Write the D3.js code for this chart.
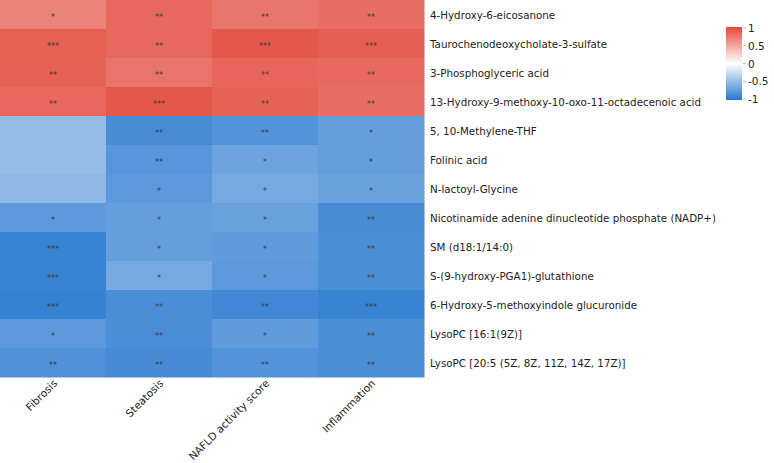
<!DOCTYPE html>
<html><head><meta charset="utf-8">
<script src="https://cdn.jsdelivr.net/npm/d3@7"></script>
<style>body{margin:0;background:#fff}svg{display:block}</style>
</head><body><svg id="c" width="774" height="463"></svg>
<script>
const rows = ["4-Hydroxy-6-eicosanone","Taurochenodeoxycholate-3-sulfate","3-Phosphoglyceric acid","13-Hydroxy-9-methoxy-10-oxo-11-octadecenoic acid","5, 10-Methylene-THF","Folinic acid","N-lactoyl-Glycine","Nicotinamide adenine dinucleotide phosphate (NADP+)","SM (d18:1/14:0)","S-(9-hydroxy-PGA1)-glutathione","6-Hydroxy-5-methoxyindole glucuronide","LysoPC [16:1(9Z)]","LysoPC [20:5 (5Z, 8Z, 11Z, 14Z, 17Z)]"];
const cols = ["Fibrosis","Steatosis","NAFLD activity score","Inflammation"];
const fibrosis = [0.68,0.87,0.86,0.82,-0.5,-0.5,-0.52,-0.75,-0.92,-0.92,-0.93,-0.76,-0.82];
const steatosis = [0.82,0.82,0.76,0.92,-0.85,-0.78,-0.76,-0.72,-0.72,-0.64,-0.84,-0.84,-0.86];
const nas = [0.75,0.92,0.84,0.86,-0.8,-0.68,-0.64,-0.7,-0.74,-0.75,-0.88,-0.74,-0.8];
const inflammation = [0.8,0.88,0.82,0.8,-0.72,-0.72,-0.7,-0.85,-0.84,-0.84,-0.92,-0.84,-0.84];
const sigFibrosis = ["*","***","**","**","","","","*","***","***","***","*","**"];
const sigSteatosis = ["**","**","**","***","**","**","*","*","*","*","**","**","**"];
const sigNas = ["**","***","**","**","**","*","*","*","*","*","**","*","**"];
const sigInflammation = ["**","***","**","**","*","*","*","**","**","**","***","**","**"];
const legendTicks = [1,0.5,0,-0.5,-1];

const values = [fibrosis, steatosis, nas, inflammation];
const sigs = [sigFibrosis, sigSteatosis, sigNas, sigInflammation];
const cells = [];
cols.forEach((c,ci)=>rows.forEach((r,ri)=>cells.push({c, r, v:values[ci][ri], s:sigs[ci][ri]})));

const svg = d3.select("#c");
const font = "DejaVu Sans";
const x = d3.scaleBand().domain(cols).range([0,424]);
const y = d3.scaleBand().domain(rows).range([0,377]);
const color = d3.scaleLinear().domain([-1,0,1]).range(["#2878CF","#FFFFFF","#E2483B"]);

svg.append("g").selectAll("rect").data(cells).join("rect")
  .attr("x", d=>x(d.c)).attr("y", d=>y(d.r))
  .attr("width", x.bandwidth()+0.5).attr("height", y.bandwidth()+0.5)
  .attr("fill", d=>color(d.v));

svg.append("g").selectAll("text").data(cells).join("text")
  .attr("x", d=>x(d.c)+x.bandwidth()/2).attr("y", d=>y(d.r)+y.bandwidth()/2+5)
  .attr("text-anchor","middle").attr("font-family",font).attr("font-size",8)
  .attr("fill","#3a3a3a").text(d=>d.s);

svg.append("g").selectAll("text").data(rows).join("text")
  .attr("x", 430).attr("y", d=>y(d)+y.bandwidth()/2)
  .attr("dominant-baseline","central").attr("font-family",font).attr("font-size",10.3)
  .attr("fill","#222").text(d=>d);

svg.append("g").selectAll("text").data(cols).join("text")
  .attr("transform", d=>`translate(${x(d)+x.bandwidth()/2+5},384) rotate(-45)`)
  .attr("text-anchor","end").attr("font-family",font).attr("font-size",10.5)
  .attr("fill","#222").text(d=>d);

// legend
const defs = svg.append("defs");
const grad = defs.append("linearGradient").attr("id","lg").attr("x1",0).attr("y1",1).attr("x2",0).attr("y2",0);
[-1,-0.5,0,0.5,1].forEach(v=>grad.append("stop").attr("offset",(v+1)/2).attr("stop-color",color(v)));
const ly = d3.scaleLinear().domain([-1,1]).range([99,28]);
svg.append("rect").attr("x",726).attr("y",27).attr("width",16).attr("height",73).attr("fill","url(#lg)");
const lg = svg.append("g");
lg.selectAll("line").data(legendTicks).join("line")
  .attr("x1",743).attr("x2",746).attr("y1",d=>ly(d)).attr("y2",d=>ly(d)).attr("stroke","#bbb");
lg.selectAll("text").data(legendTicks).join("text")
  .attr("x",748).attr("y",d=>ly(d)).attr("dominant-baseline","central")
  .attr("font-family",font).attr("font-size",10.5).attr("fill","#222").text(d=>d);
</script></body></html>
